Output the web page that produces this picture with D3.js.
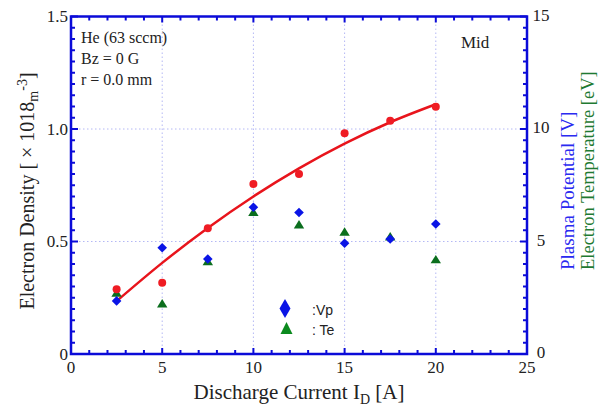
<!DOCTYPE html>
<html>
<head>
<meta charset="utf-8">
<script src="https://cdn.jsdelivr.net/npm/d3@7/dist/d3.min.js"></script>
<style>
  html, body { margin: 0; padding: 0; background: #fff; }
  svg { display: block; }
</style>
</head>
<body>
<svg id="chart" width="611" height="407"></svg>
<script>
// Discharge current sweep, He 63 sccm, Bz = 0 G, r = 0.0 mm
const current = [2.5, 5, 7.5, 10, 12.5, 15, 17.5, 20];           // I_D [A]
const density = [0.288, 0.317, 0.559, 0.756, 0.800, 0.981, 1.037, 1.099]; // ×10^18 m^-3
const densityFit = [0.235, 0.405, 0.56, 0.70, 0.825, 0.935, 1.03, 1.11];  // fitted trend
const plasmaPotential = [2.36, 4.72, 4.22, 6.52, 6.29, 4.92, 5.11, 5.78]; // Vp [V]
const electronTemp = [2.70, 2.22, 4.10, 6.28, 5.73, 5.41, 5.20, 4.18];    // Te [eV]

const xTicks = [0, 5, 10, 15, 20, 25];
const yLeftTicks = [0, 0.5, 1.0, 1.5];
const yLeftLabels = ["0", "0.5", "1.0", "1.5"];
const yRightTicks = [0, 5, 10, 15];
const infoLines = ["He (63 sccm)", "Bz = 0 G", "r = 0.0 mm"];

const svg = d3.select("#chart");
const m = { left: 71, right: 527, top: 16.5, bottom: 354 };
const serif = "'Liberation Serif', 'Times New Roman', serif";
const sans = "'Liberation Sans', Arial, sans-serif";
const axisBlue = "#0b0bd8";

const x = d3.scaleLinear().domain([0, 25]).range([m.left, m.right]);
const yL = d3.scaleLinear().domain([0, 1.5]).range([m.bottom, m.top]);
const yR = d3.scaleLinear().domain([0, 15]).range([m.bottom, m.top]);

// dotted grid at major ticks
const grid = svg.append("g").attr("stroke", "#b4b8f4").attr("stroke-width", 1)
  .attr("stroke-dasharray", "1.5,2.5");
xTicks.slice(1, -1).forEach(t => grid.append("line")
  .attr("x1", x(t)).attr("x2", x(t)).attr("y1", m.top).attr("y2", m.bottom));
yLeftTicks.slice(1, -1).forEach(t => grid.append("line")
  .attr("x1", m.left).attr("x2", m.right).attr("y1", yL(t)).attr("y2", yL(t)));

// inward ticks on all four sides
const ticks = svg.append("g").attr("stroke", axisBlue).attr("stroke-width", 2);
d3.range(0, 25.001, 1).forEach(t => {
  const len = t % 5 === 0 ? 6 : 4;
  ticks.append("line").attr("x1", x(t)).attr("x2", x(t)).attr("y1", m.bottom).attr("y2", m.bottom - len);
  ticks.append("line").attr("x1", x(t)).attr("x2", x(t)).attr("y1", m.top).attr("y2", m.top + len);
});
d3.range(0, 1.5001, 0.05).forEach(t => {
  const major = Math.abs(t * 2 - Math.round(t * 2)) < 1e-6;
  const len = major ? 7 : 4;
  ticks.append("line").attr("x1", m.left).attr("x2", m.left + len).attr("y1", yL(t)).attr("y2", yL(t));
});
d3.range(0, 15.001, 0.5).forEach(t => {
  const major = Math.abs(t / 5 - Math.round(t / 5)) < 1e-6;
  const len = major ? 7 : 4;
  ticks.append("line").attr("x1", m.right).attr("x2", m.right - len).attr("y1", yR(t)).attr("y2", yR(t));
});

// frame
svg.append("rect").attr("x", m.left).attr("y", m.top)
  .attr("width", m.right - m.left).attr("height", m.bottom - m.top)
  .attr("fill", "none").attr("stroke", axisBlue).attr("stroke-width", 2.5);

// tick labels
const lbl = svg.append("g").attr("font-family", serif).attr("font-size", 17).attr("fill", "#222");
xTicks.forEach(t => lbl.append("text").attr("x", x(t)).attr("y", m.bottom + 19)
  .attr("text-anchor", "middle").text(t));
yLeftTicks.forEach((t, i) => lbl.append("text").attr("x", m.left - 3).attr("y", yL(t) + 5.5)
  .attr("text-anchor", "end").text(yLeftLabels[i]));
yRightTicks.forEach(t => lbl.append("text").attr("x", m.right + 14).attr("y", yR(t) + 4)
  .attr("text-anchor", "middle").text(t));

// axis titles
const xt = svg.append("text").attr("x", 299).attr("y", 399).attr("text-anchor", "middle")
  .attr("font-family", serif).attr("font-size", 21).attr("fill", "#222");
xt.append("tspan").text("Discharge Current I");
xt.append("tspan").attr("font-size", 14).attr("dy", 5).text("D");
xt.append("tspan").attr("dy", -5).text(" [A]");

const yt = svg.append("text").attr("transform", "translate(34,191) rotate(-90)")
  .attr("text-anchor", "middle").attr("font-family", serif).attr("font-size", 20).attr("fill", "#222");
yt.append("tspan").text("Electron Density [ \u00d7 1018");
yt.append("tspan").attr("font-size", 14).attr("dy", 4).text("m");
yt.append("tspan").attr("font-size", 14).attr("dy", -11).text("-3");
yt.append("tspan").attr("dy", 7).text("]");

svg.append("text").attr("transform", "translate(574,270) rotate(-90)")
  .attr("font-family", serif).attr("font-size", 19).attr("fill", "#2a2af0").text("Plasma Potential [V]");
svg.append("text").attr("transform", "translate(594,270) rotate(-90)")
  .attr("font-family", serif).attr("font-size", 18.5).attr("fill", "#1f7a32").text("Electron Temperature [eV]");

// annotations
const info = svg.append("g").attr("font-family", serif).attr("font-size", 16).attr("fill", "#222");
infoLines.forEach((s, i) => info.append("text").attr("x", 81).attr("y", 43 + i * 21).text(s));
info.append("text").attr("x", 461).attr("y", 48).attr("font-size", 17).text("Mid");

// fitted density trend
const line = d3.line().x((d, i) => x(current[i])).y(d => yL(d)).curve(d3.curveMonotoneX);
svg.append("path").datum(densityFit).attr("d", line)
  .attr("fill", "none").attr("stroke", "#e8141c").attr("stroke-width", 2.5);

// markers: square diamonds for Vp, small triangles for Te
const diamondPath = "M0,-4.8L4.8,0L0,4.8L-4.8,0Z";
const trianglePath = "M0,-5L5.2,3.4L-5.2,3.4Z";

svg.append("g").selectAll("path").data(electronTemp).join("path")
  .attr("d", trianglePath)
  .attr("transform", (d, i) => `translate(${x(current[i])},${yR(d)})`)
  .attr("fill", "#0b6e1e");

svg.append("g").selectAll("path").data(plasmaPotential).join("path")
  .attr("d", diamondPath)
  .attr("transform", (d, i) => `translate(${x(current[i])},${yR(d)})`)
  .attr("fill", "#0a14e6");

svg.append("g").selectAll("circle").data(density).join("circle")
  .attr("cx", (d, i) => x(current[i])).attr("cy", d => yL(d)).attr("r", 4)
  .attr("fill", "#ef1c24");

// legend
const lg = svg.append("g");
lg.append("path").attr("d", "M0,-9.5L5.5,0L0,9.5L-5.5,0Z")
  .attr("transform", "translate(285,308.5)").attr("fill", "#0a14e6");
lg.append("path").attr("d", "M0,-6.5L6,5.5L-6,5.5Z")
  .attr("transform", "translate(286.5,328.5)").attr("fill", "#0b8a1e");
lg.append("text").attr("x", 312).attr("y", 315).attr("font-family", sans).attr("font-size", 14)
  .attr("fill", "#222").text(":Vp");
lg.append("text").attr("x", 312).attr("y", 335).attr("font-family", sans).attr("font-size", 14)
  .attr("fill", "#222").text(": Te");
</script>
</body>
</html>
